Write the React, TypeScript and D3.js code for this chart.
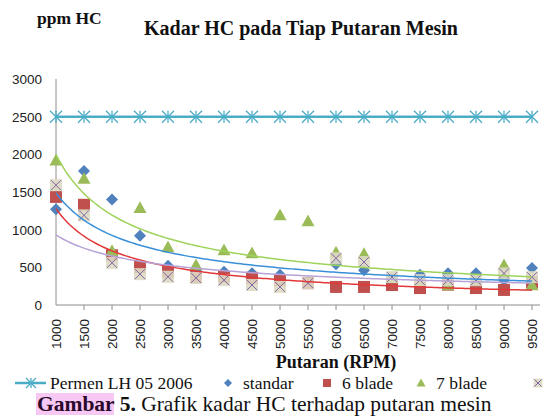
import React from "react"
import * as d3 from "d3"

// RPM values on the x axis
const rpm = [1000, 1500, 2000, 2500, 3000, 3500, 4000, 4500, 5000, 5500, 6000, 6500, 7000, 7500, 8000, 8500, 9000, 9500]
const yTicks = [0, 500, 1000, 1500, 2000, 2500, 3000]

// HC values (ppm)
const permen = [2500, 2500, 2500, 2500, 2500, 2500, 2500, 2500, 2500, 2500, 2500, 2500, 2500, 2500, 2500, 2500, 2500, 2500]
const standar = [1270, 1780, 1400, 920, 520, 450, 440, 420, 400, 300, 540, 460, 290, 400, 420, 420, 330, 490]
const blade6 = [1435, 1330, 660, 505, 440, 370, 375, 360, 330, 290, 240, 240, 265, 225, 270, 225, 200, 300]
const blade7 = [1920, 1680, 720, 1290, 770, 530, 730, 690, 1195, 1115, 700, 680, 360, 320, 265, 330, 530, 265]
const blade8 = [1590, 1190, 560, 410, 375, 360, 330, 265, 240, 290, 620, 570, 370, 330, 330, 330, 420, 370]

const W = 547
const H = 417

const x = d3.scalePoint<number>().domain(rpm).range([56, 532])
const xr = d3.scaleLinear().domain([1000, 9500]).range([56, 532])
const y = d3.scaleLinear().domain([0, 3000]).range([305, 79])

// power trendline y = a * rpm^b, least squares in log space
function powerFit(vals: number[]) {
  const pts = vals.map((v, i) => [Math.log(rpm[i]), Math.log(v)])
  const mx = d3.mean(pts, (p) => p[0]) ?? 0
  const my = d3.mean(pts, (p) => p[1]) ?? 0
  const b = d3.sum(pts, (p) => (p[0] - mx) * (p[1] - my)) / d3.sum(pts, (p) => (p[0] - mx) ** 2)
  const a = Math.exp(my - b * mx)
  return d3.range(1000, 9501, 50).map((r) => [xr(r), y(a * Math.pow(r, b))] as [number, number])
}

const line = d3.line<[number, number]>()

const serif = "Liberation Serif, DejaVu Serif, serif"
const sans = "Liberation Sans, Arial, sans-serif"

const Asterisk = ({ cx, cy, r = 6 }: { cx: number; cy: number; r?: number }) => (
  <g stroke="#4bacc6" strokeWidth={1.3}>
    <line x1={cx - r} y1={cy - r} x2={cx + r} y2={cy + r} />
    <line x1={cx - r} y1={cy + r} x2={cx + r} y2={cy - r} />
    <line x1={cx} y1={cy - r} x2={cx} y2={cy + r} />
  </g>
)

const Diamond = ({ cx, cy, r = 6 }: { cx: number; cy: number; r?: number }) => (
  <path d={`M${cx},${cy - r}L${cx + r},${cy}L${cx},${cy + r}L${cx - r},${cy}Z`} fill="#4f81bd" />
)

const Square = ({ cx, cy, r = 6 }: { cx: number; cy: number; r?: number }) => (
  <rect x={cx - r} y={cy - r} width={2 * r} height={2 * r} fill="#c0504d" />
)

const Triangle = ({ cx, cy, r = 6.5 }: { cx: number; cy: number; r?: number }) => (
  <path d={`M${cx},${cy - r}L${cx + r},${cy + r * 0.8}L${cx - r},${cy + r * 0.8}Z`} fill="#9bbb59" />
)

const XMark = ({ cx, cy, r = 6 }: { cx: number; cy: number; r?: number }) => (
  <g>
    <rect x={cx - r} y={cy - r} width={2 * r} height={2 * r} fill="#ddd9c3" opacity={0.9} />
    <g stroke="#8064a2" strokeWidth={1}>
      <line x1={cx - r + 1} y1={cy - r + 1} x2={cx + r - 1} y2={cy + r - 1} />
      <line x1={cx - r + 1} y1={cy + r - 1} x2={cx + r - 1} y2={cy - r + 1} />
    </g>
  </g>
)

export default function App() {
  const trends = [
    { vals: standar, color: "#3a8fd9" },
    { vals: blade6, color: "#e2383a" },
    { vals: blade7, color: "#9ed35a" },
    { vals: blade8, color: "#b7a3d8" },
  ]

  return (
    <svg width={W} height={H} style={{ position: "absolute", left: 0, top: 0, background: "#fff" }}>
      {/* titles */}
      <text x={37} y={24} style={{ fontFamily: serif }} fontWeight="bold" fontSize={17.5} fill="#111">
        ppm HC
      </text>
      <text x={301} y={35} textAnchor="middle" style={{ fontFamily: serif }} fontWeight="bold" fontSize={20} fill="#111">
        Kadar HC pada Tiap Putaran Mesin
      </text>

      {/* y axis */}
      <line x1={56} x2={56} y1={y(3000)} y2={y(0)} stroke="#8c8c8c" />
      {yTicks.map((t) => (
        <text key={t} x={42} y={y(t) + 5} textAnchor="end" style={{ fontFamily: sans }} fontSize={13.5} fill="#222">
          {t}
        </text>
      ))}

      {/* x axis */}
      <line x1={56} x2={540} y1={y(0)} y2={y(0)} stroke="#8c8c8c" />
      {rpm.map((r) => (
        <g key={r}>
          {r !== rpm[0] && <line x1={x(r)} x2={x(r)} y1={y(0)} y2={y(0) + 5} stroke="#8c8c8c" />}
          <text
            transform={`translate(${x(r)! + 5},${y(0) + 14}) rotate(-90)`}
            textAnchor="end"
            style={{ fontFamily: sans }}
            fontSize={13.5}
            fill="#222"
          >
            {r}
          </text>
        </g>
      ))}
      <text x={336} y={368} textAnchor="middle" style={{ fontFamily: serif }} fontWeight="bold" fontSize={18} fill="#111">
        Putaran (RPM)
      </text>

      {/* Permen LH line */}
      <path d={line(rpm.map((r, i) => [x(r)!, y(permen[i])]))!} fill="none" stroke="#4bacc6" strokeWidth={2.5} />
      {rpm.map((r, i) => (
        <Asterisk key={r} cx={x(r)!} cy={y(permen[i])} />
      ))}

      {/* markers */}
      {rpm.map((r, i) => (
        <Diamond key={"s" + r} cx={x(r)!} cy={y(standar[i])} />
      ))}
      {rpm.map((r, i) => (
        <Square key={"b6" + r} cx={x(r)!} cy={y(blade6[i])} />
      ))}
      {rpm.map((r, i) => (
        <Triangle key={"b7" + r} cx={x(r)!} cy={y(blade7[i])} />
      ))}
      {rpm.map((r, i) => (
        <XMark key={"b8" + r} cx={x(r)!} cy={y(blade8[i])} />
      ))}

      {/* power trendlines */}
      {trends.map((t) => (
        <path key={t.color} d={line(powerFit(t.vals))!} fill="none" stroke={t.color} strokeWidth={1.5} />
      ))}

      {/* legend */}
      <g style={{ fontFamily: serif }} fontSize={17.5} fill="#111">
        <line x1={15} x2={46} y1={383} y2={383} stroke="#4bacc6" strokeWidth={2.5} />
        <Asterisk cx={31} cy={383} r={5} />
        <text x={50} y={389}>Permen LH 05 2006</text>
        <Diamond cx={228} cy={383} r={4} />
        <text x={243} y={389}>standar</text>
        <Square cx={327} cy={383} r={4} />
        <text x={342} y={389}>6 blade</text>
        <Triangle cx={421} cy={383} r={4.5} />
        <text x={436} y={389}>7 blade</text>
        <XMark cx={538} cy={383} r={4.5} />
      </g>

      {/* caption */}
      <rect x={36} y={393} width={78} height={22} fill="#f8c8f4" />
      <text x={37} y={411} style={{ fontFamily: serif }} fontSize={21.5} fill="#111">
        <tspan fontWeight="bold" fill="#2a0a2a">Gambar</tspan>
        <tspan fontWeight="bold"> 5.</tspan>
        <tspan> Grafik kadar HC terhadap putaran mesin</tspan>
      </text>
    </svg>
  )
}
